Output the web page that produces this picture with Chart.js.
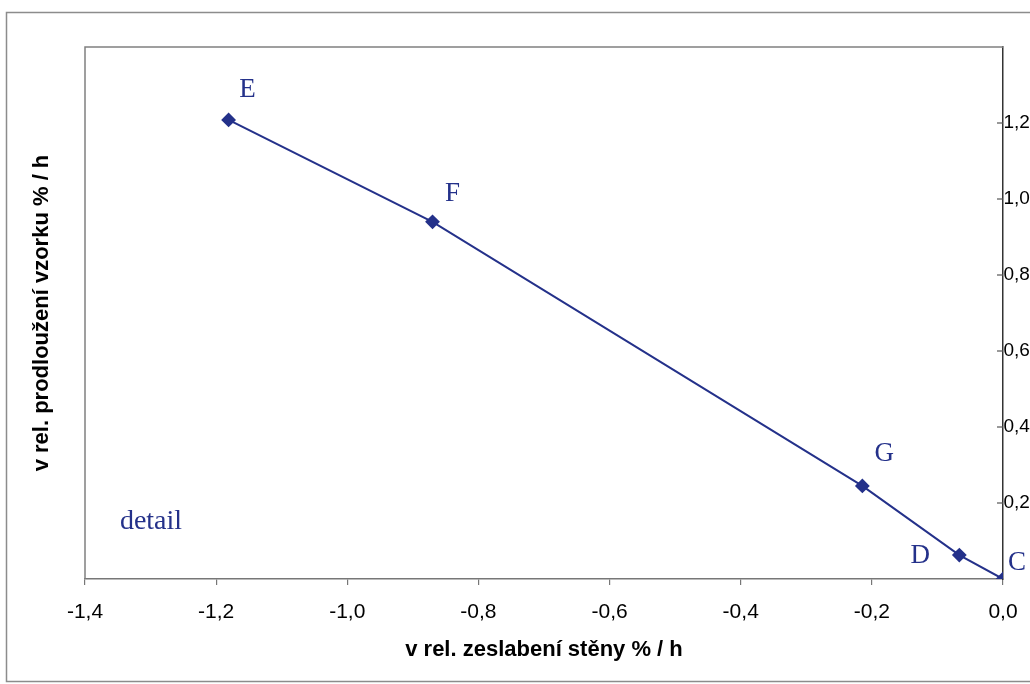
<!DOCTYPE html>
<html>
<head>
<meta charset="utf-8">
<script src="https://cdn.jsdelivr.net/npm/chart.js@4.4.1/dist/chart.umd.min.js"></script>
<style>
  html, body { margin: 0; padding: 0; background: #fff; }
  #wrap { width: 1030px; height: 684px; }
</style>
</head>
<body>
<div id="wrap"><canvas id="c" width="1030" height="684"></canvas></div>
<script>
// Measured points: relative wall weakening vs. relative specimen elongation (% per hour)
const pointNames  = ['E', 'F', 'G', 'D', 'C'];
const wallRate    = [-1.181, -0.870, -0.2145, -0.0666, 0.0];
const stretchRate = [1.208, 0.940, 0.245, 0.063, 0.0];

// Axis tick values
const xTickValues = [-1.4, -1.2, -1.0, -0.8, -0.6, -0.4, -0.2, 0.0];
const yTickValues = [0.2, 0.4, 0.6, 0.8, 1.0, 1.2];

// Name-label offsets from each point (px)
const nameOffsets = [[19, -30], [20, -28], [22, -32], [-39, 1], [14, -16]];

const navy = '#24318a';
const comma = v => v.toFixed(1).replace('.', ',');
const sans = '"Liberation Sans", Arial, sans-serif';

const decorations = {
  id: 'decorations',
  beforeDraw(chart) {
    const ctx = chart.ctx;
    ctx.save();
    // outer frame
    ctx.strokeStyle = '#8c8c8c';
    ctx.lineWidth = 1.5;
    ctx.strokeRect(6.5, 12.5, 1040, 669);
    ctx.restore();
  },
  afterDraw(chart) {
    const ctx = chart.ctx;
    const a = chart.chartArea;
    const ys = chart.scales.y;
    ctx.save();
    // left and top edges of the plot box
    ctx.strokeStyle = '#808080';
    ctx.lineWidth = 1.5;
    ctx.beginPath();
    ctx.moveTo(a.left, a.bottom);
    ctx.lineTo(a.left, a.top);
    ctx.lineTo(a.right, a.top);
    ctx.stroke();
    // inward ticks and labels of the right value axis
    ctx.strokeStyle = '#555';
    ctx.lineWidth = 1.2;
    ctx.fillStyle = '#000';
    ctx.font = '19px ' + sans;
    ctx.textAlign = 'left';
    ctx.textBaseline = 'middle';
    yTickValues.forEach(v => {
      const py = ys.getPixelForValue(v);
      ctx.beginPath();
      ctx.moveTo(a.right - 6, py);
      ctx.lineTo(a.right, py);
      ctx.stroke();
      ctx.fillText(comma(v), a.right + 0.5, py);
    });

    // axis titles
    ctx.font = 'bold 22px ' + sans;
    ctx.textAlign = 'center';
    ctx.fillText('v rel. zeslabení stěny % / h', (a.left + a.right) / 2, 650);
    ctx.save();
    ctx.translate(42, (a.top + a.bottom) / 2);
    ctx.rotate(-Math.PI / 2);
    ctx.fillText('v rel. prodloužení vzorku % / h', 0, 0);
    ctx.restore();

    // point names
    const meta = chart.getDatasetMeta(0);
    ctx.fillStyle = navy;
    ctx.font = '27px "Liberation Serif", "Times New Roman", serif';
    meta.data.forEach((pt, i) => {
      const [dx, dy] = nameOffsets[i];
      ctx.fillText(pointNames[i], pt.x + dx, pt.y + dy);
    });
    ctx.font = '28px "Liberation Serif", "Times New Roman", serif';
    ctx.fillText('detail', 151, 522);
    ctx.restore();
  }
};

new Chart(document.getElementById('c'), {
  type: 'scatter',
  data: {
    datasets: [{
      data: wallRate.map((x, i) => ({ x, y: stretchRate[i] })),
      showLine: true,
      borderColor: navy,
      backgroundColor: navy,
      borderWidth: 2,
      tension: 0,
      pointStyle: 'rectRot',
      pointRadius: 6,
      pointHoverRadius: 6
    }]
  },
  options: {
    responsive: false,
    animation: false,
    events: [],
    layout: { padding: { left: 85, top: 47, right: 0, bottom: 0 } },
    plugins: { legend: { display: false }, tooltip: { enabled: false } },
    scales: {
      x: {
        type: 'linear',
        min: -1.4, max: 0,
        afterBuildTicks: s => { s.ticks = xTickValues.map(value => ({ value })); },
        afterFit: s => { s.height = 105; s.paddingLeft = 0; s.paddingRight = 0; },
        ticks: {
          callback: v => comma(v),
          color: '#000',
          font: { family: sans, size: 21 },
          padding: 15,
          maxRotation: 0,
          autoSkip: false
        },
        grid: { drawOnChartArea: false, drawTicks: true, tickLength: 6, color: '#777', lineWidth: 1.2 },
        border: { color: '#777', width: 1.5 }
      },
      y: {
        type: 'linear',
        position: 'right',
        min: 0, max: 1.4,
        afterBuildTicks: s => { s.ticks = yTickValues.map(value => ({ value })); },
        afterFit: s => { s.width = 27; s.paddingTop = 0; s.paddingBottom = 0; },
        ticks: { display: false },
        grid: { drawOnChartArea: false, drawTicks: false },
        border: { color: '#333', width: 1.5 }
      }
    }
  },
  plugins: [decorations]
});
</script>
</body>
</html>
